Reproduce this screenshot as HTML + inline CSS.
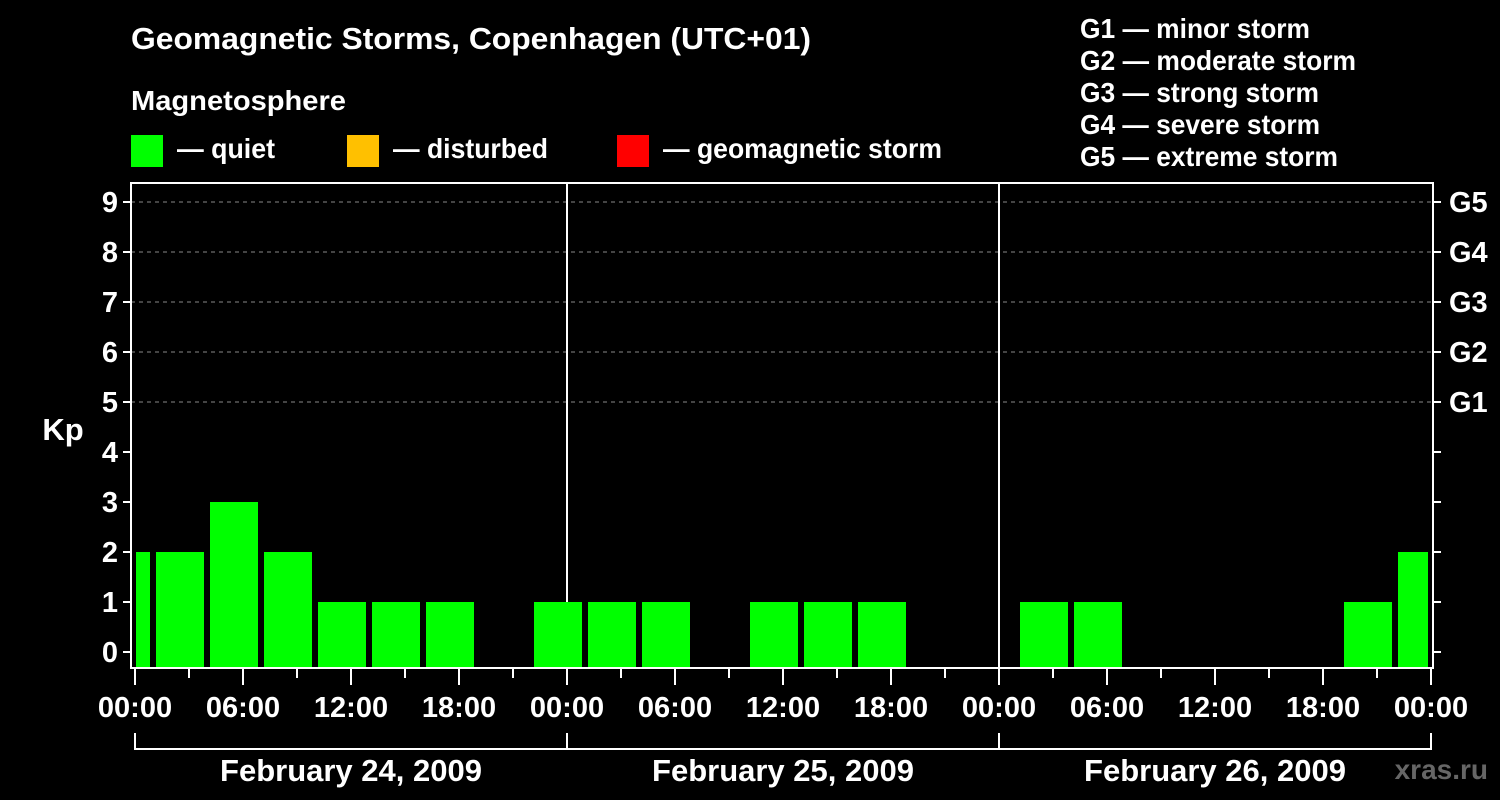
<!DOCTYPE html>
<html><head><meta charset="utf-8"><style>
html,body{margin:0;padding:0;background:#000;}
svg{display:block;font-family:"Liberation Sans",Arial,sans-serif;font-weight:bold;}
</style></head><body>
<svg id="chart" width="1500" height="800" viewBox="0 0 1500 800">
<rect x="0" y="0" width="1500" height="800" fill="#000"/>
<text x="131" y="49" fill="#fff" font-size="31" textLength="680" lengthAdjust="spacingAndGlyphs">Geomagnetic Storms, Copenhagen (UTC+01)</text>
<text x="131" y="110" fill="#fff" font-size="28" textLength="215" lengthAdjust="spacingAndGlyphs">Magnetosphere</text>
<g><rect x="131" y="135" width="32" height="32" fill="#00ff00"/><text x="177" y="158" fill="#fff" font-size="28" textLength="98" lengthAdjust="spacingAndGlyphs">— quiet</text></g>
<g><rect x="347" y="135" width="32" height="32" fill="#ffc000"/><text x="393" y="158" fill="#fff" font-size="28" textLength="155" lengthAdjust="spacingAndGlyphs">— disturbed</text></g>
<g><rect x="617" y="135" width="32" height="32" fill="#ff0000"/><text x="663" y="158" fill="#fff" font-size="28" textLength="279" lengthAdjust="spacingAndGlyphs">— geomagnetic storm</text></g>
<g fill="#fff" font-size="28">
<text x="1080" y="38" textLength="230" lengthAdjust="spacingAndGlyphs">G1 — minor storm</text>
<text x="1080" y="70" textLength="276" lengthAdjust="spacingAndGlyphs">G2 — moderate storm</text>
<text x="1080" y="102" textLength="239" lengthAdjust="spacingAndGlyphs">G3 — strong storm</text>
<text x="1080" y="134" textLength="240" lengthAdjust="spacingAndGlyphs">G4 — severe storm</text>
<text x="1080" y="166" textLength="258" lengthAdjust="spacingAndGlyphs">G5 — extreme storm</text>
</g>
<text x="63" y="440" fill="#fff" font-size="31" text-anchor="middle">Kp</text>
<text x="1488" y="779" fill="#666" font-size="28" text-anchor="end">xras.ru</text>
<g id="grid"></g><g id="bars"></g><g id="axes"></g>
</svg>
<script>
const kpValues = [2,2,3,2,1,1,1,null,1, 1,1,null,1,1,1,null,null, 1,1,null,null,null,null,1,2];
const barStartHours = [-2,1,4,7,10,13,16,19,22, 25,28,31,34,37,40,43,46, 49,52,55,58,61,64,67,70];
const kpTicks = [0,1,2,3,4,5,6,7,8,9];
const gLabels = ["G1","G2","G3","G4","G5"];
const hourLabels = ["00:00","06:00","12:00","18:00","00:00","06:00","12:00","18:00","00:00","06:00","12:00","18:00","00:00"];
const dayLabels = ["February 24, 2009","February 25, 2009","February 26, 2009"];
const NS="http://www.w3.org/2000/svg";
const X0=135,PXH=18,TOTAL=72,YB=668,TOP=183,LEFT=131,RIGHT=1433;
const x=h=>X0+PXH*h;
const y=v=>652-50*v;
function mk(tag,attrs,parent){const e=document.createElementNS(NS,tag);for(const k in attrs)e.setAttribute(k,attrs[k]);parent.appendChild(e);return e;}
const grid=document.getElementById('grid'),bars=document.getElementById('bars'),axes=document.getElementById('axes');
for(let v=5;v<=9;v++){const l=mk('line',{x1:LEFT,x2:RIGHT,y1:y(v),y2:y(v),stroke:'#888','stroke-dasharray':'4,4','stroke-width':1},grid);

}
for(const d of [1,2]){const l=mk('line',{x1:x(24*d),x2:x(24*d),y1:TOP,y2:YB,stroke:'#fff','stroke-width':2},grid);

}
kpValues.forEach((v,i)=>{if(v===null)return;
let s=x(barStartHours[i])+3,e=x(barStartHours[i]+3)-3;
s=Math.max(s,X0+1);e=Math.min(e,x(TOTAL)-3);
const color=v>=5?'#ff0000':(v>=4?'#ffc000':'#00ff00');
const r=mk('rect',{x:s,y:y(v),width:e-s,height:YB-y(v),fill:color},bars);

});
const f=mk('rect',{x:LEFT,y:TOP,width:RIGHT-LEFT,height:YB-TOP,fill:'none',stroke:'#fff','stroke-width':2},axes);


kpTicks.forEach(v=>{mk('line',{x1:LEFT-8,x2:LEFT,y1:y(v),y2:y(v),stroke:'#fff','stroke-width':2},axes);
mk('line',{x1:RIGHT,x2:RIGHT+8,y1:y(v),y2:y(v),stroke:'#fff','stroke-width':2},axes);
const t=mk('text',{x:LEFT-13,y:y(v)+10,fill:'#fff','font-size':29,'text-anchor':'end'},axes);t.textContent=v;

});
gLabels.forEach((g,i)=>{const t=mk('text',{x:1449,y:y(5+i)+10,fill:'#fff','font-size':29},axes);t.textContent=g;

});
for(let h=0;h<=TOTAL;h+=3){const major=h%6===0;mk('line',{x1:x(h),x2:x(h),y1:YB,y2:YB+(major?17:10),stroke:'#fff','stroke-width':2},axes);}
hourLabels.forEach((s,i)=>{const t=mk('text',{x:x(i*6),y:717,fill:'#fff','font-size':29,'text-anchor':'middle'},axes);t.textContent=s;

});
mk('line',{x1:x(0),x2:x(TOTAL),y1:749,y2:749,stroke:'#fff','stroke-width':2},axes);
for(let d=0;d<=3;d++)mk('line',{x1:x(24*d),x2:x(24*d),y1:733,y2:750,stroke:'#fff','stroke-width':2},axes);
dayLabels.forEach((s,i)=>{const t=mk('text',{x:x(24*i+12),y:781,fill:'#fff','font-size':31,'text-anchor':'middle'},axes);t.textContent=s;

});
</script>
</body></html>
